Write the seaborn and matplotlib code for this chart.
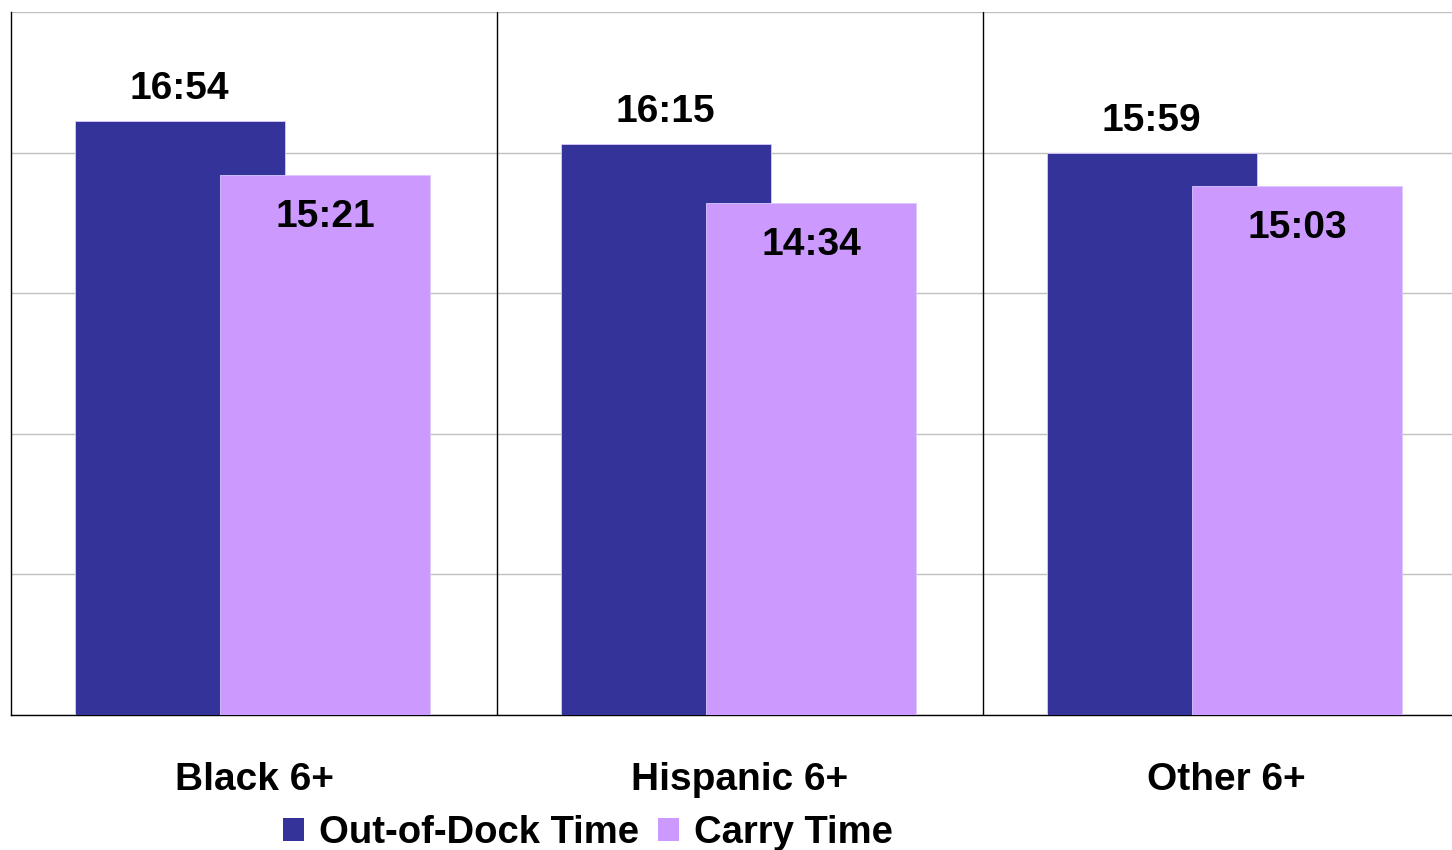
import matplotlib
matplotlib.use("Agg")
import matplotlib.pyplot as plt
from matplotlib.patches import Patch
import pandas as pd
import seaborn as sns

# %% DATA
groups = ["Black 6+", "Hispanic 6+", "Other 6+"]
series = ["Out-of-Dock Time", "Carry Time"]
# minutes per day
out_of_dock = [1014, 975, 959]   # 16:54, 16:15, 15:59
carry_time = [921, 874, 903]     # 15:21, 14:34, 15:03
colors = ["#333399", "#CC99FF"]

df = pd.DataFrame({
    "group": groups * 2,
    "series": [series[0]] * 3 + [series[1]] * 3,
    "minutes": out_of_dock + carry_time,
})


def hhmm(m):
    return f"{m // 60}:{m % 60:02d}"


# %% VISUALISE
sns.set_style("white")
plt.rcParams["font.family"] = ["Liberation Sans", "DejaVu Sans"]
plt.rcParams["text.color"] = "black"
plt.rcParams["xtick.color"] = "black"

FS = 28

fig = plt.figure(figsize=(14.52, 8.5), dpi=100)
ax = fig.add_axes([11 / 1452, 1 - 715 / 850, 1458 / 1452, 703 / 850])

sns.barplot(
    data=df, x="group", y="minutes", hue="series",
    palette=colors, saturation=1, width=0.6, dodge=True, legend=False,
    edgecolor="#dcc8ff", linewidth=0.6, ax=ax, zorder=3,
)

# widen the dodged bars so they overlap like the original
bar_w = 0.432
for p in ax.patches:
    cx = p.get_x() + p.get_width() / 2 - 0.003
    p.set_x(cx - bar_w / 2)
    p.set_width(bar_w)

# value labels: above the dark bars, inside the light bars
n = len(groups)
for i, p in enumerate(ax.patches[: 2 * n]):
    cx = p.get_x() + p.get_width() / 2
    top = p.get_height()
    if i < n:
        ax.annotate(hhmm(out_of_dock[i]), (cx, top), xytext=(0, 16),
                    textcoords="offset points", ha="center", va="baseline",
                    fontsize=FS, fontweight="bold", color="black", zorder=5)
    else:
        ax.annotate(hhmm(carry_time[i - n]), (cx, top), xytext=(0, -17),
                    textcoords="offset points", ha="center", va="top",
                    fontsize=FS, fontweight="bold", color="black", zorder=5)

ax.set_ylim(0, 1200)
ax.set_yticks(range(0, 1201, 240))
ax.yaxis.grid(True, color="#c0c0c0", linewidth=1)
ax.set_axisbelow(True)
ax.tick_params(axis="y", left=False, labelleft=False)
ax.set_xlim(-0.5, 2.5)

# category dividers
for xb in [0.5, 1.5]:
    ax.axvline(xb, color="black", linewidth=1, zorder=4)

for side in ["top", "right"]:
    ax.spines[side].set_visible(False)
ax.spines["left"].set_color("black")
ax.spines["bottom"].set_color("black")
ax.spines["left"].set_linewidth(1)
ax.spines["bottom"].set_linewidth(1)

ax.set_xlabel("")
ax.set_ylabel("")
ax.tick_params(axis="x", bottom=False, pad=30, labelsize=FS, labelcolor="black")
for lbl in ax.get_xticklabels():
    lbl.set_fontweight("bold")

handles = [Patch(facecolor=c, edgecolor="none") for c in colors]
fig.legend(
    handles, series, loc="center", bbox_to_anchor=(588 / 1452, 17 / 850),
    ncol=2, frameon=False, prop={"size": 27.5, "weight": "bold"},
    handlelength=0.55, handleheight=0.55, handletextpad=0.4,
    columnspacing=0.5, borderpad=0, borderaxespad=0,
)

fig.savefig("out.png", dpi=100)
